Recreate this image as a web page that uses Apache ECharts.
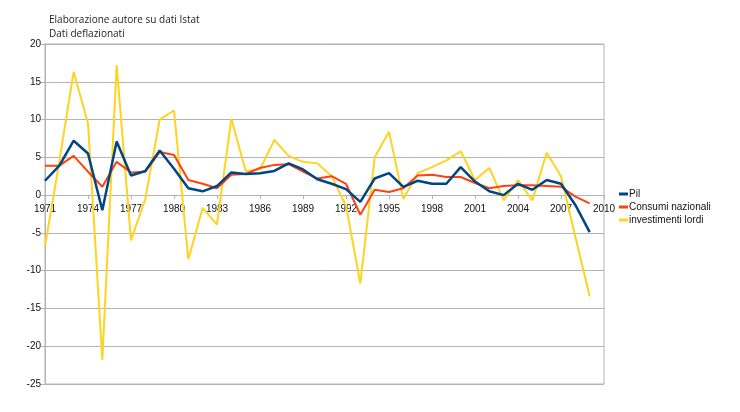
<!DOCTYPE html>
<html>
<head>
<meta charset="utf-8">
<script src="https://cdn.jsdelivr.net/npm/echarts@6/dist/echarts.min.js"></script>
<style>
html,body{margin:0;padding:0;background:#fff;}
#c{width:740px;height:412px;}
</style>
</head>
<body>
<div id="c"></div>
<script>
const years = [];
for (let y = 1971; y <= 2010; y++) years.push(String(y));

const pil = [1.9, 3.9, 7.2, 5.5, -2.0, 7.1, 2.6, 3.2, 5.9, 3.5,
  0.9, 0.5, 1.2, 3.0, 2.8, 2.9, 3.2, 4.2, 3.4, 2.1,
  1.5, 0.8, -0.9, 2.2, 2.9, 1.1, 1.9, 1.5, 1.5, 3.7,
  1.8, 0.5, 0.0, 1.5, 0.7, 2.0, 1.5, -1.3, -4.9];

const consumi = [3.9, 3.9, 5.2, 3.1, 1.1, 4.4, 3.0, 3.1, 5.7, 5.3,
  2.0, 1.5, 0.9, 2.7, 2.8, 3.6, 4.0, 4.1, 3.1, 2.2,
  2.5, 1.5, -2.6, 0.7, 0.4, 0.9, 2.6, 2.7, 2.4, 2.4,
  1.6, 0.9, 1.2, 1.3, 1.3, 1.2, 1.1, -0.2, -1.1];

const investimenti = [-6.8, 4.5, 16.3, 9.5, -21.8, 17.2, -6.0, -0.5, 10.0, 11.2,
  -8.5, -1.7, -3.9, 10.1, 3.2, 3.4, 7.3, 5.2, 4.4, 4.2,
  2.5, -1.4, -11.7, 5.0, 8.4, -0.5, 2.9, 3.7, 4.6, 5.8,
  2.0, 3.6, -0.7, 2.0, -0.7, 5.6, 2.5, -5.5, -13.4];

const seriesNames = ['Pil', 'Consumi nazionali', 'investimenti lordi'];
const titleLines = ['Elaborazione autore su dati Istat', 'Dati deflazionati'];

const yMin = -25, yMax = 20;
const gridTop = 44, gridBottom = 28, chartH = 412;
const plotH = chartH - gridTop - gridBottom;
const zeroOffset = -plotH * (0 - yMin) / (yMax - yMin);

const chart = echarts.init(document.getElementById('c'));
const labelFont = 'Liberation Sans Narrow, Liberation Sans, Arial, sans-serif';
chart.setOption({
  animation: false,
  backgroundColor: '#ffffff',
  color: ['#004586', '#ff420e', '#ffd320'],
  title: {
    text: titleLines.join('\n'),
    left: 44, top: 8,
    textStyle: { fontSize: 10, fontWeight: 'normal', color: '#222', lineHeight: 14, fontFamily: 'Open Sans, DejaVu Sans, sans-serif' }
  },
  legend: {
    orient: 'vertical',
    left: 614, top: 184,
    itemWidth: 9, itemHeight: 3, itemGap: 3,
    icon: 'rect',
    textStyle: { fontSize: 10, color: '#111', fontFamily: labelFont, padding: [0, 0, 0, -4] },
    data: seriesNames
  },
  grid: {
    left: 45, right: 136, top: gridTop, bottom: gridBottom,
    show: true, borderColor: '#b3b3b3', borderWidth: 1
  },
  xAxis: {
    type: 'category',
    data: years,
    boundaryGap: false,
    position: 'bottom',
    offset: zeroOffset,
    axisLine: { onZero: false, lineStyle: { color: '#b3b3b3' } },
    axisTick: { show: true, interval: 2, length: 4, inside: false, lineStyle: { color: '#b3b3b3' } },
    axisLabel: { interval: 2, fontSize: 10, color: '#111', fontFamily: labelFont, margin: 9 },
    splitLine: { show: false }
  },
  yAxis: {
    type: 'value',
    min: yMin, max: yMax, interval: 5,
    axisLine: { show: true, lineStyle: { color: '#b3b3b3' } },
    axisTick: { show: true, length: 4, lineStyle: { color: '#b3b3b3' } },
    axisLabel: { fontSize: 10, color: '#111', fontFamily: labelFont, margin: 4 },
    splitLine: { show: true, lineStyle: { color: '#b3b3b3', width: 1 } }
  },
  series: [
    { name: seriesNames[0], type: 'line', data: pil, showSymbol: false, symbol: 'none', z: 4,
      lineStyle: { width: 2.5, color: '#004586' } },
    { name: seriesNames[1], type: 'line', data: consumi, showSymbol: false, symbol: 'none', z: 3,
      lineStyle: { width: 2, color: '#ff420e' } },
    { name: seriesNames[2], type: 'line', data: investimenti, showSymbol: false, symbol: 'none', z: 2,
      lineStyle: { width: 2, color: '#ffd320' } }
  ]
});
</script>
</body>
</html>
